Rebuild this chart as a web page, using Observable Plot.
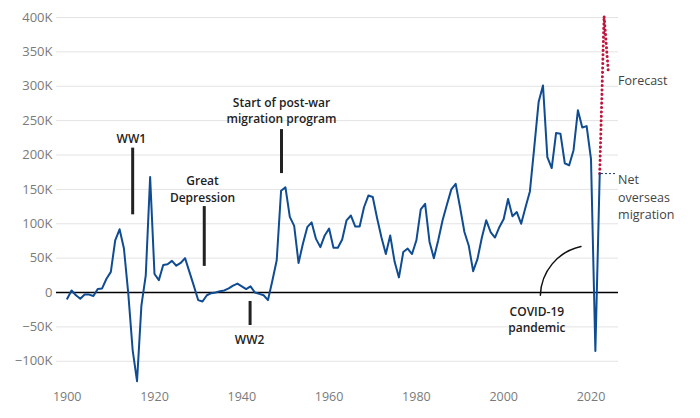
<!DOCTYPE html>
<html><head><meta charset="utf-8">
<script src="https://cdn.jsdelivr.net/npm/d3@7"></script>
<script src="https://cdn.jsdelivr.net/npm/@observablehq/plot@0.6"></script>
<style>
body{margin:0;background:#fff;font-family:"Open Sans",sans-serif}
#chart{width:700px;height:418px}
</style>
</head><body><div id="chart"></div>
<script>
// Net overseas migration, thousands of people, by year
const years = d3.range(1900, 2023);
const values = [
  -9, 3, -4, -9, -3, -3, -5, 5, 6, 20,          // 1900s
  30, 76, 92, 64, -2, -84, -129, -19, 25, 168,   // 1910s
  27, 18, 40, 41, 46, 39, 43, 50, 30, 10,        // 1920s
  -11, -13, -4, -1, 0, 2, 3, 6, 10, 13,          // 1930s
  9, 5, 9, 0, -2, -4, -11, 17, 47, 148,          // 1940s
  153, 110, 97, 43, 71, 95, 102, 78, 66, 83,     // 1950s
  93, 65, 65, 77, 105, 112, 96, 96, 124, 141,    // 1960s
  139, 108, 80, 56, 83, 45, 22, 59, 64, 56,      // 1970s
  76, 121, 129, 74, 50, 76, 105, 128, 150, 158,  // 1980s
  124, 88, 68, 31, 49, 80, 105, 88, 80, 95,      // 1990s
  107, 136, 111, 117, 100, 124, 147, 211, 277, 301, // 2000s
  197, 181, 232, 231, 188, 185, 207, 265, 240, 242, // 2010s
  194, -85, 173                                  // 2020s
];
const forecastYears = [2022, 2023, 2024];
const forecastValues = [173, 402, 318];
const xTicks = [1900, 1920, 1940, 1960, 1980, 2000, 2020];
const yTicks = [-100, -50, 0, 50, 100, 150, 200, 250, 300, 350, 400];

// annotation anchors (data coordinates)
const eventLabels = ["WW1", "Great\nDepression", "Start of post-war\nmigration program", "WW2", "COVID-19\npandemic"];
const eventLabelX = [1914.7, 1931, 1949.1, 1941.8, 2007.6];
const eventLabelY = [225, 152, 266, -67, -38];
const eventRuleX = [1915, 1931.4, 1949.1, 1941.9];
const eventRuleY1 = [210, 125, 237, -13];
const eventRuleY2 = [113, 38, 173, -48];
const sideLabels = ["Forecast", "Net\noverseas\nmigration"];
const sideLabelX = [2026.2, 2026.2];
const sideLabelY = [310, 140];

const series = years.map((y, i) => ({year: y, value: values[i]}));
const forecast = forecastYears.map((y, i) => ({year: y, value: forecastValues[i]}));
const labels = eventLabels.map((t, i) => ({t, x: eventLabelX[i], y: eventLabelY[i]}));
const rules = eventRuleX.map((x, i) => ({x, y1: eventRuleY1[i], y2: eventRuleY2[i]}));
const side = sideLabels.map((t, i) => ({t, x: sideLabelX[i], y: sideLabelY[i]}));
const fmt = d => d === 0 ? "0" : (d < 0 ? "\u2212" : "") + Math.abs(d) + "K";

const chart = Plot.plot({
  width: 700,
  height: 418,
  marginTop: 17,
  marginBottom: 36.6,
  marginLeft: 56,
  marginRight: 82,
  style: {fontFamily: "'Open Sans', sans-serif", background: "#fff", overflow: "visible"},
  x: {domain: [1897.55, 2026.3]},
  y: {domain: [-130, 400]},
  marks: [
    Plot.gridY(yTicks, {stroke: "#e3e3e3", strokeOpacity: 1}),
    Plot.axisY(yTicks, {tickSize: 0, tickPadding: 4, tickFormat: fmt, fontSize: 13, fill: "#7a7a7a", label: null}),
    Plot.axisX(xTicks, {tickSize: 0, tickPadding: 10, tickFormat: d => String(d), fontSize: 12.5, fill: "#7a7a7a", label: null}),
    Plot.ruleY([0], {stroke: "#000", strokeWidth: 1.3}),
    Plot.ruleX(rules, {x: "x", y1: "y1", y2: "y2", stroke: "#222", strokeWidth: 3}),
    Plot.text(labels, {x: "x", y: "y", text: "t", fontSize: 12, fontWeight: 600, fill: "#222", lineAnchor: "middle", lineHeight: 1.4}),
    Plot.arrow([{x1: 2008.4, y1: -4, x2: 2017.7, y2: 67}], {x1: "x1", y1: "y1", x2: "x2", y2: "y2", bend: 38, headLength: 0, stroke: "#111", strokeWidth: 1.5}),
    Plot.line(forecast, {x: "year", y: "value", stroke: "#c0143c", strokeWidth: 3, strokeDasharray: "0.1,4.3", strokeLinecap: "round"}),
    Plot.line(series, {x: "year", y: "value", stroke: "#0f4c92", strokeWidth: 2, strokeLinejoin: "round"}),
    Plot.ruleY([173], {x1: 2022.4, x2: 2025.8, stroke: "#1a3a6b", strokeWidth: 1, strokeDasharray: "2,2"}),
    Plot.text(side, {x: "x", y: "y", text: "t", fontSize: 12.5, fill: "#444", textAnchor: "start", lineAnchor: "middle", lineHeight: 1.4})
  ]
});
document.getElementById("chart").appendChild(chart);
</script>
</body></html>
